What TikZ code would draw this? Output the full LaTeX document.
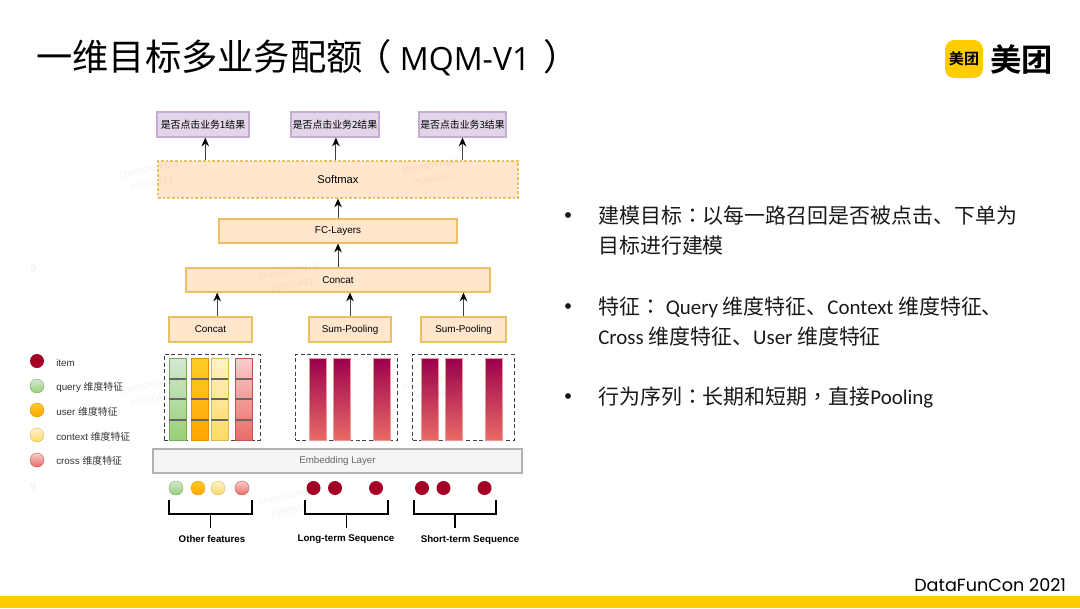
\documentclass[tikz,border=0pt]{standalone}
\usepackage{fontspec}
\usepackage{tikz}
\usetikzlibrary{positioning,arrows.meta,calc}
\setmainfont{Liberation Sans}
\newfontfamily\cjk{Noto Sans CJK SC}
\newfontfamily\cjkp{Noto Sans CJK TC}
\newfontfamily\cjkbf{Noto Sans CJK SC Bold}
\newfontfamily\geo{Poppins}
\newfontfamily\opn{Open Sans}
\newfontfamily\lat{Carlito}
\definecolor{peachfill}{HTML}{FFE6CC}
\definecolor{peachline}{HTML}{EBC064}
\definecolor{lilacfill}{HTML}{E1D5E7}
\definecolor{lilacline}{HTML}{C4ACD2}
\definecolor{mtyellow}{HTML}{FFCC00}
\definecolor{itemred}{HTML}{A20025}
\definecolor{seqtop}{HTML}{99004D}
\definecolor{seqbot}{HTML}{EA6B66}
\definecolor{qtop}{HTML}{D5E8D4}
\definecolor{qbot}{HTML}{97D077}
\definecolor{utop}{HTML}{FFCD28}
\definecolor{ubot}{HTML}{FFA500}
\definecolor{ctop}{HTML}{FFF2CC}
\definecolor{cbot}{HTML}{FFD966}
\definecolor{xtop}{HTML}{F8CECC}
\definecolor{xbot}{HTML}{EA6B66}

\begin{document}
\begin{tikzpicture}[x=0.75pt, y=-0.75pt,
  >={Stealth[length=2.3mm,width=2mm,color=black]},
  sz/.style 2 args={minimum width=#1*0.75pt, minimum height=#2*0.75pt, inner sep=0pt},
  box/.style   ={draw=peachline, fill=peachfill, line width=.9pt, font=\fontsize{7.4}{9}\selectfont},
  res/.style   ={draw=lilacline, fill=lilacfill, line width=.9pt, font=\cjk\fontsize{7.4}{9}\selectfont},
  emb/.style   ={draw=black!30, fill=black!4, line width=.9pt, text=black!60, font=\fontsize{7.3}{9}\selectfont},
  frame/.style ={draw=black!75, densely dashed, line width=.6pt},
  qs/.style    ={draw=qbot!80!black, top color=qtop, bottom color=qbot},
  us/.style    ={draw=ubot!90!black, top color=utop, bottom color=ubot},
  cs/.style    ={draw=cbot!85!black, top color=ctop, bottom color=cbot},
  xs/.style    ={draw=xbot!80!black, top color=xtop, bottom color=xbot},
  sep/.style   ={draw=black!60, line width=.9pt},
  seq/.style   ={draw=seqbot!70, top color=seqtop, bottom color=seqbot, line width=.5pt},
  barbox/.style={sz={17}{82}, line width=.4pt},
  dot/.style   ={circle, sz={14}{14}, line width=.3pt},
  fl/.style    ={->, line width=.7pt, draw=black!75},
  brace/.style ={line width=1pt, draw=black},
  lbl/.style   ={font=\bfseries\fontsize{7.3}{9}\selectfont, inner sep=0pt},
  leg/.style   ={anchor=west, inner sep=0pt, text=black!80, font=\fontsize{7.4}{9}\selectfont},
  body/.style  ={anchor=west, inner sep=0pt, align=left, text=black!90,
                 font=\cjk\fontsize{15.7}{22.5}\selectfont},
  wm/.style    ={rotate=12, align=center, text=black, opacity=.05, inner sep=0pt, font=\fontsize{7.5}{11}\selectfont}]

  \useasboundingbox (0,0) rectangle (1080,608);

  % --- slide frame --------------------------------------------------------
  \fill[mtyellow] (0,596) rectangle (1080,608);
  \node[anchor=west, inner sep=0pt, font=\fontsize{27.2}{32}\selectfont] (title) at (36,58)
    {\cjk 一维目标多业务配额\hspace{-.2em}（{\opn\fontsize{24}{32}\selectfont\ MQM-V1\ \,}）};
  \node[anchor=west, inner sep=0pt, font=\geo\fontsize{13.2}{16}\selectfont] (conf) at (914,585)
    {DataFunCon 2021};
  \node[fill=mtyellow, rounded corners=7pt, sz={38}{38}, font=\cjkbf\fontsize{11.3}{14}\selectfont] (logo) at (964,59) {美团};
  \node[inner sep=0pt, font=\cjkbf\fontsize{23.5}{28}\selectfont, anchor=west] (logotxt) at (990,59) {美团};

  % --- output lane --------------------------------------------------------
  \node[res, sz={92}{25}] (res1) at (203,124.5) {是否点击业务1结果};
  \node[res, sz={88}{25}] (res2) at (335,124.5) {是否点击业务2结果};
  \node[res, sz={87}{25}] (res3) at (462.5,124.5) {是否点击业务3结果};
  \node[box, sz={360}{37}, dash pattern=on 2pt off 1.5pt, font=\fontsize{8.4}{10}\selectfont] (soft) at (338,179.5) {Softmax};
  \node[box, sz={238}{24}] (fc) at (338,231) {FC-Layers};
  \node[box, sz={304}{24}] (merge) at (338,280) {Concat};

  % --- pooling lane -------------------------------------------------------
  \node[box, sz={83}{25}] (cc) at (210.5,329.5) {Concat};
  \node[box, sz={82}{25}] (lp) at (350,329.5) {Sum-Pooling};
  \node[box, sz={85}{25}] (sp) at (463.5,329.5) {Sum-Pooling};

  % --- embedded features --------------------------------------------------
  \node[frame, sz={96}{86}] (fr1) at (212,397) {};
  \node[frame, sz={101.5}{86}] (fr2) at (346.25,397) {};
  \node[frame, sz={101.5}{86}] (fr3) at (463.25,397) {};
  \node[barbox, qs] (bq) at (177.5,399) {};
  \node[barbox, us] (bu) at (200,399) {};
  \node[barbox, cs] (bc) at (219.5,399) {};
  \node[barbox, xs] (bx) at (243.5,399) {};
  \foreach \b in {bq,bu,bc,bx}
    \foreach \y in {379,399,420}
      \draw[sep] (\b.west |- 0,\y) -- (\b.east |- 0,\y);
  \foreach \n/\x in {sa/317.5,sb/342,sc/381.5,ta/429.5,tb/453.5,tc/493.5}
    \node[seq, sz={17}{82}] (\n) at (\x,399) {};

  \node[emb, sz={369}{24}] (embed) at (337.5,461) {Embedding Layer};

  % --- input dots ---------------------------------------------------------
  \node[dot, qs] (dq) at (176,488) {};
  \node[dot, us] (du) at (198,488) {};
  \node[dot, cs] (dc) at (218,488) {};
  \node[dot, xs] (dx) at (242,488) {};
  \foreach \n/\x in {la/313.5,lb/335,lc/376,va/422,vb/443.5,vc/484.5}
    \node[dot, fill=itemred] (\n) at (\x,488) {};

  % --- braces -------------------------------------------------------------
  \foreach \n/\l/\r in {ba/169/252,bb/305/388,bc/414/496}{
    \coordinate (\n l) at (\l,500);
    \coordinate (\n r) at (\r,500);
    \coordinate (\n m) at ({(\l+\r)/2},514);
    \coordinate (\n s) at ({(\l+\r)/2},528);
    \draw[brace] (\n l) |- (\n r |- \n m) -- (\n r);
    \draw[brace] (\n m) -- (\n s);
  }
  \node[lbl] (lother) at (212,539.5) {Other features};
  \node[lbl] (llong) at (346,539.5) {Long-term Sequence};
  \node[lbl] (lshort) at (470,539.5) {Short-term Sequence};

  % --- legend -------------------------------------------------------------
  \node[dot, fill=itemred] (k1) at (37,361) {};
  \node[dot, qs] (k2) at (37,386) {};
  \node[dot, us] (k3) at (37,410) {};
  \node[dot, cs] (k4) at (37,435) {};
  \node[dot, xs] (k5) at (37,460) {};
  \node[leg] (t1) at (56,363) {item};
  \node[leg] (t2) at (56,387.5) {query {\cjk 维度特征}};
  \node[leg] (t3) at (56,412) {user {\cjk 维度特征}};
  \node[leg] (t4) at (56,436.5) {context {\cjk 维度特征}};
  \node[leg] (t5) at (56,461) {cross {\cjk 维度特征}};

  % --- edges --------------------------------------------------------------
  \draw[fl] ([xshift=1.7pt]res1.south |- soft.north) -- ([xshift=1.7pt]res1.south);
  \draw[fl] ([xshift=.7pt]res2.south |- soft.north) -- ([xshift=.7pt]res2.south);
  \draw[fl] (res3.south |- soft.north) -- (res3.south);
  \draw[fl] (fc) -- (soft);
  \draw[fl] (merge) -- (fc);
  \draw[fl] ([xshift=5pt]cc.north) -- ([xshift=5pt]cc.north |- merge.south);
  \draw[fl] (lp.north) -- (lp.north |- merge.south);
  \draw[fl] (sp.north) -- (sp.north |- merge.south);

  % --- right column -------------------------------------------------------
  \foreach \y in {215,306,396}
    \fill[black!90] (568,\y) circle (2.2pt);
  \node[body] (goal) at (598,231) {建模目标{\cjkp ：}以每一路召回是否被点击、下单为\\目标进行建模};
  \node[body] (feat) at (598,321) {特征{\cjkp ：} {\lat Query} 维度特征、{\lat Context} 维度特征、\\{\lat Cross} 维度特征、{\lat User} 维度特征};
  \node[body] (beh) at (598,397) {行为序列{\cjkp ：}长期和短期{\cjkp ，}直接{\lat Pooling}};

  % --- watermarks ---------------------------------------------------------
  \foreach \x/\y in {150/176,433/172,290/278,150/392,433/388,290/503}
    \node[wm] at (\x,\y) {chensheng19\\75866491};
  \foreach \y in {269,487}
    \node[wm, rotate=-12, font=\bfseries\fontsize{8}{10}\selectfont] at (33,\y) {9};
\end{tikzpicture}
\end{document}
